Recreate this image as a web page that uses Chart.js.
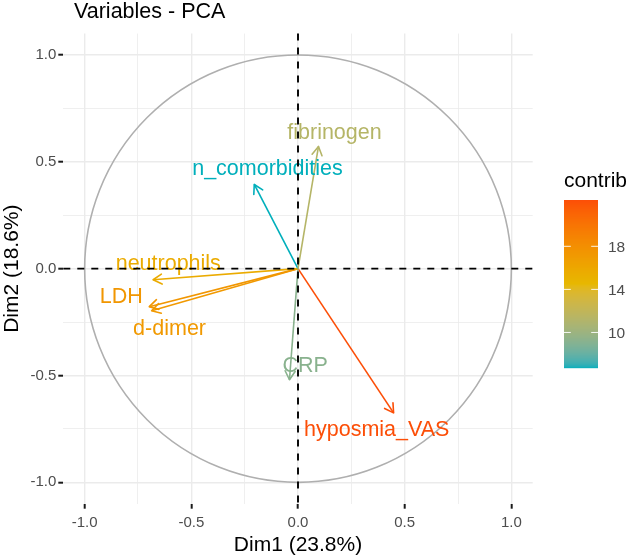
<!DOCTYPE html>
<html>
<head>
<meta charset="utf-8">
<script src="https://cdn.jsdelivr.net/npm/chart.js@4.4.1/dist/chart.umd.min.js"></script>
<style>
  html, body { margin: 0; padding: 0; background: #ffffff; }
  #wrap { width: 628px; height: 555px; }
</style>
</head>
<body>
<div id="wrap"><canvas id="c" width="628" height="555"></canvas></div>
<script>
// ---- data ----
const variables = ["fibrinogen", "n_comorbidities", "neutrophils", "LDH", "d-dimer", "CRP", "hyposmia_VAS"];
const dim1 = [0.096, -0.205, -0.679, -0.697, -0.686, -0.040, 0.448];
const dim2 = [0.572, 0.394, -0.052, -0.178, -0.197, -0.520, -0.675];
const contrib = [11.3, 6.7, 15.6, 17.4, 17.2, 9.2, 22.3];
const labelX = [0.171, -0.143, -0.608, -0.828, -0.602, 0.034, 0.369];
const labelY = [0.609, 0.438, -0.006, -0.159, -0.311, -0.484, -0.784];
const majorTicks = [-1, -0.5, 0, 0.5, 1];
const minorTicks = [-0.75, -0.25, 0.25, 0.75];
const legendTicks = [10, 14, 18];
const gradientColors = ["#00AFBB", "#E7B800", "#FC4E07"];

// ---- colour helpers (Lab interpolation like ggplot) ----
function hexToRgb(h) { return [parseInt(h.slice(1,3),16), parseInt(h.slice(3,5),16), parseInt(h.slice(5,7),16)]; }
function lin(c) { c /= 255; return c <= 0.04045 ? c / 12.92 : Math.pow((c + 0.055) / 1.055, 2.4); }
function delin(c) { c = c <= 0.0031308 ? 12.92 * c : 1.055 * Math.pow(c, 1/2.4) - 0.055; return Math.max(0, Math.min(255, Math.round(c * 255))); }
const Xn = 0.95047, Yn = 1.0, Zn = 1.08883;
function f(t) { return t > 0.008856 ? Math.cbrt(t) : 7.787 * t + 16/116; }
function finv(t) { return t > 0.206893 ? t*t*t : (t - 16/116) / 7.787; }
function rgbToLab(rgb) {
  const r = lin(rgb[0]), g = lin(rgb[1]), b = lin(rgb[2]);
  const X = 0.4124*r + 0.3576*g + 0.1805*b;
  const Y = 0.2126*r + 0.7152*g + 0.0722*b;
  const Z = 0.0193*r + 0.1192*g + 0.9505*b;
  const fx = f(X/Xn), fy = f(Y/Yn), fz = f(Z/Zn);
  return [116*fy - 16, 500*(fx - fy), 200*(fy - fz)];
}
function labToRgb(lab) {
  const fy = (lab[0] + 16) / 116, fx = fy + lab[1]/500, fz = fy - lab[2]/200;
  const X = Xn*finv(fx), Y = Yn*finv(fy), Z = Zn*finv(fz);
  const r = 3.2406*X - 1.5372*Y - 0.4986*Z;
  const g = -0.9689*X + 1.8758*Y + 0.0415*Z;
  const b = 0.0557*X - 0.2040*Y + 1.0570*Z;
  return [delin(r), delin(g), delin(b)];
}
const labStops = gradientColors.map(h => rgbToLab(hexToRgb(h)));
const cmin = Math.min(...contrib), cmax = Math.max(...contrib);
function colorFor(v) {
  let t = (v - cmin) / (cmax - cmin);
  t = Math.max(0, Math.min(1, t));
  const seg = t < 0.5 ? 0 : 1;
  const u = seg === 0 ? t / 0.5 : (t - 0.5) / 0.5;
  const a = labStops[seg], b = labStops[seg + 1];
  const lab = [a[0] + (b[0]-a[0])*u, a[1] + (b[1]-a[1])*u, a[2] + (b[2]-a[2])*u];
  const rgb = labToRgb(lab);
  return `rgb(${rgb[0]},${rgb[1]},${rgb[2]})`;
}

const FONT = '"Liberation Sans", Arial, Helvetica, sans-serif';
const allTicks = majorTicks.concat(minorTicks).sort((a, b) => a - b);
const isMajor = v => majorTicks.some(m => Math.abs(m - v) < 1e-9);

const datasets = variables.map((name, i) => ({
  label: name,
  data: [{x: 0, y: 0}, {x: dim1[i], y: dim2[i]}],
  showLine: true,
  borderColor: colorFor(contrib[i]),
  borderWidth: 1.6,
  pointRadius: 0,
  pointHoverRadius: 0,
  fill: false
}));

const pcaPlugin = {
  id: 'pcaPlugin',
  beforeDatasetsDraw(chart) {
    const ctx = chart.ctx, xs = chart.scales.x, ys = chart.scales.y;
    // correlation circle
    ctx.save();
    const cx = xs.getPixelForValue(0), cy = ys.getPixelForValue(0);
    const rx = xs.getPixelForValue(1) - cx, ry = cy - ys.getPixelForValue(1);
    ctx.strokeStyle = '#AFAFAF';
    ctx.lineWidth = 1.6;
    ctx.beginPath();
    ctx.ellipse(cx, cy, rx, ry, 0, 0, Math.PI * 2);
    ctx.stroke();
    ctx.restore();
  },
  afterDatasetsDraw(chart) {
    const ctx = chart.ctx, xs = chart.scales.x, ys = chart.scales.y, ca = chart.chartArea;
    // arrow heads
    variables.forEach((name, i) => {
      const x0 = xs.getPixelForValue(0), y0 = ys.getPixelForValue(0);
      const x1 = xs.getPixelForValue(dim1[i]), y1 = ys.getPixelForValue(dim2[i]);
      const ang = Math.atan2(y1 - y0, x1 - x0);
      const L = 10, a = Math.PI / 6;
      ctx.save();
      ctx.strokeStyle = colorFor(contrib[i]);
      ctx.lineWidth = 1.6;
      ctx.lineCap = 'round';
      ctx.lineJoin = 'round';
      ctx.beginPath();
      ctx.moveTo(x1 - L * Math.cos(ang - a), y1 - L * Math.sin(ang - a));
      ctx.lineTo(x1, y1);
      ctx.lineTo(x1 - L * Math.cos(ang + a), y1 - L * Math.sin(ang + a));
      ctx.stroke();
      ctx.restore();
    });
    // variable labels
    variables.forEach((name, i) => {
      ctx.save();
      ctx.fillStyle = colorFor(contrib[i]);
      ctx.font = '21.5px ' + FONT;
      ctx.textAlign = 'center';
      ctx.textBaseline = 'alphabetic';
      ctx.fillText(name, xs.getPixelForValue(labelX[i]), ys.getPixelForValue(labelY[i]));
      ctx.restore();
    });
    // dashed reference lines
    ctx.save();
    ctx.strokeStyle = '#000000';
    ctx.lineWidth = 1.9;
    ctx.setLineDash([7, 7]);
    const zx = xs.getPixelForValue(0), zy = ys.getPixelForValue(0);
    ctx.beginPath();
    ctx.moveTo(ca.left, zy); ctx.lineTo(ca.right, zy);
    ctx.stroke();
    ctx.beginPath();
    ctx.moveTo(zx, ca.top); ctx.lineTo(zx, ca.bottom);
    ctx.stroke();
    ctx.restore();
  },
  afterDraw(chart) {
    const ctx = chart.ctx, ca = chart.chartArea;
    ctx.save();
    // title
    ctx.fillStyle = '#000000';
    ctx.font = '21.5px ' + FONT;
    ctx.textAlign = 'left';
    ctx.textBaseline = 'alphabetic';
    ctx.fillText('Variables - PCA', 74, 17.5);
    // x axis title
    ctx.font = '21px ' + FONT;
    ctx.textAlign = 'center';
    ctx.fillText('Dim1 (23.8%)', (ca.left + ca.right) / 2, 551);
    // y axis title
    ctx.save();
    ctx.translate(18, (ca.top + ca.bottom) / 2);
    ctx.rotate(-Math.PI / 2);
    ctx.fillText('Dim2 (18.6%)', 0, 0);
    ctx.restore();
    // legend
    const bx = 564, by = 200, bw = 34, bh = 168;
    ctx.font = '21px ' + FONT;
    ctx.textAlign = 'left';
    ctx.fillText('contrib', bx, 187);
    for (let k = 0; k < bh; k++) {
      const v = cmax - (k + 0.5) / bh * (cmax - cmin);
      ctx.fillStyle = colorFor(v);
      ctx.fillRect(bx, by + k, bw, 1.2);
    }
    ctx.font = '15.5px ' + FONT;
    ctx.textBaseline = 'middle';
    legendTicks.forEach(t => {
      const yy = by + (cmax - t) / (cmax - cmin) * bh;
      ctx.strokeStyle = 'rgba(255,255,255,0.9)';
      ctx.lineWidth = 1;
      ctx.beginPath();
      ctx.moveTo(bx, yy); ctx.lineTo(bx + bw / 5, yy);
      ctx.moveTo(bx + bw - bw / 5, yy); ctx.lineTo(bx + bw, yy);
      ctx.stroke();
      ctx.fillStyle = '#4D4D4D';
      ctx.fillText(String(t), bx + bw + 10, yy + 1);
    });
    ctx.restore();
  }
};

const gridCommon = {
  color: '#EBEBEB',
  lineWidth: c => (c.tick && isMajor(c.tick.value)) ? 1.4 : 0.8,
  tickColor: c => (c.tick && isMajor(c.tick.value)) ? '#1A1A1A' : 'rgba(0,0,0,0)',
  tickWidth: 2,
  tickLength: 5,
  drawTicks: true,
  drawOnChartArea: true
};

new Chart(document.getElementById('c'), {
  type: 'scatter',
  data: { datasets },
  options: {
    responsive: false,
    devicePixelRatio: 1,
    animation: false,
    events: [],
    layout: { padding: { left: 0, right: 95.3, top: 33.6, bottom: 0 } },
    plugins: { legend: { display: false }, tooltip: { enabled: false }, title: { display: false } },
    scales: {
      x: {
        type: 'linear', min: -1.1, max: 1.1,
        afterBuildTicks: axis => { axis.ticks = allTicks.map(v => ({ value: v })); },
        afterFit: s => { s.height = 51.3; },
        ticks: {
          autoSkip: false, maxRotation: 0, minRotation: 0,
          padding: 5,
          color: '#4D4D4D',
          font: { family: FONT, size: 15 },
          callback: v => isMajor(v) ? v.toFixed(1) : ''
        },
        grid: gridCommon,
        border: { display: false }
      },
      y: {
        type: 'linear', min: -1.1, max: 1.1,
        afterBuildTicks: axis => { axis.ticks = allTicks.map(v => ({ value: v })); },
        afterFit: s => { s.width = 63.3; },
        ticks: {
          autoSkip: false,
          padding: 2,
          color: '#4D4D4D',
          font: { family: FONT, size: 15 },
          callback: v => isMajor(v) ? v.toFixed(1) : ''
        },
        grid: gridCommon,
        border: { display: false }
      }
    }
  },
  plugins: [pcaPlugin]
});
</script>
</body>
</html>
